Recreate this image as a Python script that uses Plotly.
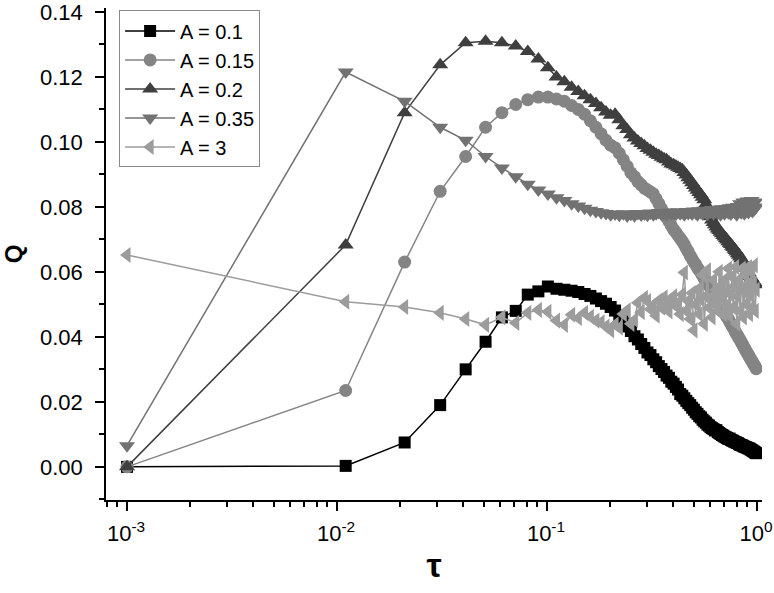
import plotly.graph_objects as go

# tau values: 0.001, 0.011, ..., 0.991
tau = [round(0.001 + 0.01 * k, 3) for k in range(100)]

q_a01 = [0, 0.0003, 0.0075, 0.019, 0.030, 0.0385, 0.046, 0.048, 0.053, 0.054,
         0.0555, 0.0548, 0.0545, 0.0542, 0.0538, 0.0532, 0.0526, 0.0518, 0.0510, 0.0502,
         0.0492, 0.0481, 0.0466, 0.0451, 0.0432, 0.0418, 0.0402, 0.0392, 0.0378, 0.0366,
         0.0352, 0.0344, 0.0331, 0.0322, 0.0310, 0.0301, 0.0292, 0.0281, 0.0274, 0.0262,
         0.0256, 0.0246, 0.0238, 0.0224, 0.0219, 0.0211, 0.0203, 0.0196, 0.0190, 0.0182,
         0.0176, 0.0168, 0.0163, 0.0156, 0.0152, 0.0145, 0.0140, 0.0136, 0.0130, 0.0127,
         0.0122, 0.0119, 0.0116, 0.0112, 0.0113, 0.0107, 0.0104, 0.0101, 0.0098, 0.0096,
         0.0093, 0.0091, 0.0089, 0.0086, 0.0087, 0.0083, 0.0081, 0.0080, 0.0077, 0.0076,
         0.0074, 0.0073, 0.0070, 0.0068, 0.0067, 0.0066, 0.0064, 0.0062, 0.0061, 0.0060,
         0.0058, 0.0057, 0.0056, 0.0054, 0.0052, 0.0050, 0.0048, 0.0046, 0.0044, 0.0042]

q_a015 = [0, 0.0235, 0.063, 0.0848, 0.0955, 0.1045, 0.109, 0.1115, 0.113, 0.1138,
          0.1138, 0.1132, 0.1125, 0.1112, 0.110, 0.1085, 0.1065, 0.1045, 0.1025, 0.1005,
          0.099, 0.0982, 0.0965, 0.0945, 0.0925, 0.0905, 0.0893, 0.0878, 0.0868, 0.0858,
          0.0852, 0.0846, 0.0840, 0.0825, 0.0810, 0.0795, 0.0782, 0.0768, 0.0755, 0.0742,
          0.0730, 0.0722, 0.0712, 0.0703, 0.0694, 0.0684, 0.0672, 0.0662, 0.0650, 0.0640,
          0.0630, 0.0622, 0.0612, 0.0605, 0.0597, 0.0588, 0.0580, 0.0572, 0.0566, 0.0558,
          0.0550, 0.0543, 0.0535, 0.0528, 0.0520, 0.0512, 0.0505, 0.0497, 0.0490, 0.0482,
          0.0475, 0.0467, 0.0460, 0.0455, 0.0447, 0.0440, 0.0434, 0.0428, 0.0421, 0.0414,
          0.0408, 0.0402, 0.0396, 0.0390, 0.0384, 0.0378, 0.0372, 0.0366, 0.0360, 0.0355,
          0.0349, 0.0344, 0.0338, 0.0333, 0.0328, 0.0323, 0.0318, 0.0313, 0.0308, 0.0302]

q_a02 = [0, 0.0683, 0.109, 0.1237, 0.1305, 0.1310, 0.1305, 0.1295, 0.1278, 0.1255,
         0.1228, 0.1200, 0.1185, 0.1168, 0.1155, 0.1142, 0.1130, 0.1118, 0.1105, 0.1092,
         0.1082, 0.1085, 0.1068, 0.1050, 0.1038, 0.1022, 0.1012, 0.1003, 0.0995, 0.0988,
         0.0980, 0.0974, 0.0968, 0.0962, 0.0958, 0.0953, 0.0948, 0.0945, 0.0938, 0.0932,
         0.0930, 0.0926, 0.0922, 0.0918, 0.0914, 0.0906, 0.0898, 0.0890, 0.0882, 0.0874,
         0.0866, 0.0858, 0.0851, 0.0844, 0.0837, 0.0830, 0.0822, 0.0808, 0.0795, 0.0782,
         0.0770, 0.0760, 0.0752, 0.0745, 0.0738, 0.0732, 0.0727, 0.0722, 0.0717, 0.0712,
         0.0707, 0.0702, 0.0698, 0.0693, 0.0688, 0.0684, 0.0679, 0.0675, 0.0670, 0.0666,
         0.0661, 0.0656, 0.0651, 0.0646, 0.0640, 0.0634, 0.0628, 0.0622, 0.0616, 0.0610,
         0.0604, 0.0598, 0.0592, 0.0586, 0.0581, 0.0576, 0.0571, 0.0567, 0.0563, 0.0560]

q_a035 = [0.0065, 0.1215, 0.1125, 0.1045, 0.1005, 0.0955, 0.092, 0.0893, 0.0870, 0.0852,
          0.0840, 0.0828, 0.0820, 0.0810, 0.0803, 0.0796, 0.0790, 0.0786, 0.0782, 0.0780,
          0.0776, 0.0778, 0.0774, 0.0779, 0.0772, 0.0777, 0.0773, 0.0780, 0.0775, 0.0778,
          0.0774, 0.0781, 0.0776, 0.0779, 0.0783, 0.0777, 0.0781, 0.0776, 0.0784, 0.0779,
          0.0782, 0.0777, 0.0785, 0.0779, 0.0783, 0.0776, 0.0786, 0.0780, 0.0784, 0.0778,
          0.0787, 0.0781, 0.0776, 0.0788, 0.0782, 0.0779, 0.0790, 0.0783, 0.0777, 0.0789,
          0.0784, 0.0792, 0.0779, 0.0786, 0.0793, 0.0781, 0.0788, 0.0776, 0.0794, 0.0785,
          0.0779, 0.0795, 0.0787, 0.0782, 0.0797, 0.0778, 0.0790, 0.0799, 0.0784, 0.0793,
          0.0776, 0.0801, 0.0788, 0.0810, 0.0782, 0.0795, 0.0815, 0.0779, 0.0804, 0.0790,
          0.0818, 0.0783, 0.0808, 0.0797, 0.0820, 0.0786, 0.0812, 0.0792, 0.0815, 0.0800]

q_a3 = [0.0652, 0.0508, 0.0492, 0.0474, 0.0455, 0.0437, 0.0460, 0.0443, 0.0474, 0.0483,
        0.0477, 0.0450, 0.0437, 0.0468, 0.0458, 0.0474, 0.0462, 0.0450, 0.0445, 0.0432,
        0.0420, 0.0438, 0.0428, 0.0470, 0.0482, 0.0440, 0.0452, 0.0505, 0.0476, 0.0520,
        0.0510, 0.0485, 0.0497, 0.0465, 0.0512, 0.0490, 0.0522, 0.0500, 0.0478, 0.0515,
        0.0525, 0.0495, 0.0505, 0.0470, 0.0530, 0.0598, 0.0480, 0.0510, 0.0455, 0.0535,
        0.0420, 0.0500, 0.0545, 0.0470, 0.0515, 0.0590, 0.0440, 0.0525, 0.0605, 0.0490,
        0.0520, 0.0460, 0.0575, 0.0500, 0.0545, 0.0480, 0.0600, 0.0510, 0.0560, 0.0470,
        0.0575, 0.0495, 0.0540, 0.0610, 0.0465, 0.0530, 0.0585, 0.0490, 0.0555, 0.0615,
        0.0440, 0.0525, 0.0575, 0.0480, 0.0545, 0.0610, 0.0460, 0.0540, 0.0590, 0.0500,
        0.0560, 0.0615, 0.0470, 0.0530, 0.0600, 0.0490, 0.0565, 0.0620, 0.0480, 0.0545]

names = ["A = 0.1", "A = 0.15", "A = 0.2", "A = 0.35", "A = 3"]
series = [q_a01, q_a015, q_a02, q_a035, q_a3]
colors = ["#000000", "#848484", "#3f3f3f", "#727272", "#9c9c9c"]
symbols = ["square", "circle", "triangle-up", "triangle-down", "triangle-left"]
sizes = [12, 13, 14, 14, 14]

x_ticks = [0.001, 0.01, 0.1, 1]
x_ticktext = ["10<sup>-3</sup>", "10<sup>-2</sup>", "10<sup>-1</sup>", "10<sup>0</sup>"]

fig = go.Figure()
for name, q, c, s, sz in zip(names, series, colors, symbols, sizes):
    fig.add_trace(go.Scatter(
        x=tau, y=q, name=name, mode="lines+markers",
        line=dict(color=c, width=1.5),
        marker=dict(symbol=s, size=sz, color=c, line=dict(width=0)),
    ))

minor_x = [m * 10.0 ** e for e in range(-4, 1) for m in range(2, 10)]

fig.update_layout(
    width=774, height=593,
    margin=dict(l=106, r=12, t=8, b=93),
    paper_bgcolor="white", plot_bgcolor="white",
    font=dict(family="Liberation Sans, Arial, sans-serif", size=22, color="black"),
    showlegend=True,
    legend=dict(x=0.02, y=0.995, xanchor="left", yanchor="top",
                bgcolor="white", bordercolor="#8a8a8a", borderwidth=1,
                font=dict(size=20), itemwidth=50, tracegroupgap=0),
    xaxis=dict(
        type="log", range=[-3.1, 0.024], automargin=False,
        tickvals=x_ticks, ticktext=x_ticktext, ticklabelshift=-1,
        ticklabelstandoff=4, ticklabeloverflow="allow",
        ticks="outside", ticklen=9, tickwidth=1.5, tickcolor="black",
        showline=True, linecolor="black", linewidth=1.5, mirror=False,
        showgrid=False, zeroline=False,
        minor=dict(tickvals=minor_x, ticks="outside", ticklen=5, tickwidth=1.5,
                   tickcolor="black", showgrid=False),
        title=dict(text="<b>τ</b>", font=dict(size=34), standoff=8),
        tickfont=dict(size=22),
    ),
    yaxis=dict(
        range=[-0.0102, 0.1412], automargin=False,
        tick0=0, dtick=0.02, tickformat=".2f", ticklabelstandoff=8,
        ticklabeloverflow="allow",
        ticks="outside", ticklen=9, tickwidth=1.5, tickcolor="black",
        showline=True, linecolor="black", linewidth=1.5, mirror=False,
        showgrid=False, zeroline=False,
        minor=dict(dtick=0.01, ticks="outside", ticklen=5, tickwidth=1.5,
                   tickcolor="black", showgrid=False),
        title=dict(text="<b>Q</b>", font=dict(size=24), standoff=28),
        tickfont=dict(size=22),
    ),
)

fig.write_html("out.html",
               config={"displayModeBar": False},
               post_script="document.body.style.margin='0';document.body.style.padding='0';")
